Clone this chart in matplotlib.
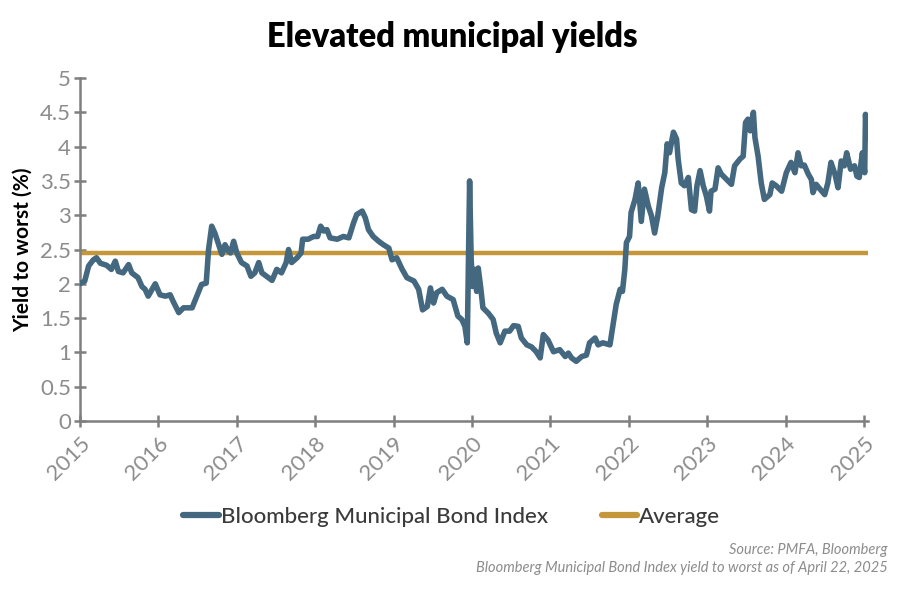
import numpy as np
import matplotlib.pyplot as plt

plt.rcParams['font.family'] = ['Lato', 'DejaVu Sans']

# yield to worst (decimal year, %)
years = [2015.01, 2015.06, 2015.11, 2015.17, 2015.21, 2015.26, 2015.34, 2015.40, 2015.45, 2015.49,
         2015.55, 2015.62, 2015.66, 2015.74, 2015.79, 2015.83, 2015.87, 2015.96, 2016.02, 2016.09,
         2016.15, 2016.19, 2016.26, 2016.32, 2016.43, 2016.49, 2016.55, 2016.61, 2016.64, 2016.68,
         2016.72, 2016.77, 2016.81, 2016.85, 2016.89, 2016.92, 2016.96, 2017.00, 2017.06, 2017.13,
         2017.18, 2017.23, 2017.28, 2017.32, 2017.38, 2017.45, 2017.51, 2017.57, 2017.63, 2017.66,
         2017.70, 2017.77, 2017.82, 2017.84, 2017.91, 2017.98, 2018.03, 2018.07, 2018.11, 2018.15,
         2018.19, 2018.28, 2018.36, 2018.43, 2018.49, 2018.53, 2018.60, 2018.64, 2018.68, 2018.74,
         2018.81, 2018.87, 2018.94, 2018.98, 2019.04, 2019.11, 2019.17, 2019.26, 2019.32, 2019.37,
         2019.43, 2019.47, 2019.51, 2019.55, 2019.62, 2019.68, 2019.76, 2019.82, 2019.87, 2019.91,
         2019.94, 2019.97, 2019.99, 2020.01, 2020.04, 2020.06, 2020.08, 2020.11, 2020.14, 2020.21,
         2020.27, 2020.31, 2020.36, 2020.42, 2020.48, 2020.53, 2020.59, 2020.63, 2020.70, 2020.76,
         2020.82, 2020.87, 2020.91, 2020.97, 2021.04, 2021.12, 2021.19, 2021.23, 2021.27, 2021.33,
         2021.40, 2021.46, 2021.50, 2021.57, 2021.61, 2021.67, 2021.76, 2021.80, 2021.84, 2021.89,
         2021.92, 2021.95, 2021.97, 2022.01, 2022.03, 2022.08, 2022.12, 2022.16, 2022.20, 2022.25,
         2022.29, 2022.33, 2022.37, 2022.42, 2022.46, 2022.49, 2022.52, 2022.57, 2022.61, 2022.63,
         2022.67, 2022.71, 2022.76, 2022.80, 2022.84, 2022.87, 2022.91, 2022.95, 2022.99, 2023.03,
         2023.05, 2023.10, 2023.14, 2023.18, 2023.25, 2023.31, 2023.35, 2023.42, 2023.46, 2023.49,
         2023.52, 2023.55, 2023.59, 2023.61, 2023.65, 2023.69, 2023.73, 2023.80, 2023.83, 2023.88,
         2023.95, 2024.01, 2024.07, 2024.12, 2024.16, 2024.20, 2024.24, 2024.29, 2024.33, 2024.35,
         2024.39, 2024.44, 2024.50, 2024.54, 2024.58, 2024.63, 2024.67, 2024.71, 2024.75, 2024.78,
         2024.83, 2024.88, 2024.91, 2024.94, 2024.98, 2025.01, 2025.02, 2025.04, 2025.05]
ytw = [2.01, 2.04, 2.26, 2.35, 2.38, 2.30, 2.27, 2.21, 2.33, 2.18,
       2.16, 2.28, 2.16, 2.09, 1.96, 1.92, 1.82, 2.00, 1.84, 1.82,
       1.84, 1.74, 1.58, 1.65, 1.65, 1.82, 1.99, 2.01, 2.50, 2.84,
       2.74, 2.57, 2.43, 2.57, 2.48, 2.45, 2.62, 2.45, 2.31, 2.26,
       2.11, 2.16, 2.31, 2.16, 2.11, 2.05, 2.21, 2.16, 2.31, 2.50,
       2.31, 2.38, 2.45, 2.65, 2.65, 2.69, 2.69, 2.84, 2.77, 2.79,
       2.67, 2.65, 2.69, 2.67, 2.89, 3.01, 3.06, 2.96, 2.79, 2.69,
       2.62, 2.57, 2.52, 2.35, 2.38, 2.21, 2.09, 2.04, 1.92, 1.62,
       1.67, 1.94, 1.72, 1.87, 1.92, 1.82, 1.77, 1.53, 1.48, 1.38,
       1.14, 3.50, 2.35, 1.96, 2.21, 1.89, 2.23, 1.96, 1.65, 1.57,
       1.48, 1.28, 1.14, 1.31, 1.31, 1.39, 1.38, 1.21, 1.11, 1.08,
       1.01, 0.92, 1.26, 1.18, 1.01, 1.04, 0.94, 0.99, 0.92, 0.87,
       0.94, 0.96, 1.14, 1.21, 1.11, 1.14, 1.11, 1.40, 1.70, 1.92,
       1.89, 2.21, 2.60, 2.69, 3.04, 3.23, 3.47, 2.91, 3.38, 3.13,
       2.99, 2.74, 2.99, 3.40, 3.62, 4.04, 3.91, 4.21, 4.11, 3.82,
       3.47, 3.43, 3.55, 3.08, 3.06, 3.43, 3.65, 3.43, 3.28, 3.06,
       3.35, 3.38, 3.69, 3.60, 3.52, 3.45, 3.72, 3.82, 3.86, 4.35,
       4.40, 4.23, 4.50, 4.13, 3.86, 3.47, 3.23, 3.30, 3.47, 3.43,
       3.35, 3.62, 3.77, 3.62, 3.91, 3.72, 3.73, 3.60, 3.52, 3.33,
       3.45, 3.38, 3.30, 3.47, 3.77, 3.60, 3.40, 3.79, 3.72, 3.91,
       3.67, 3.72, 3.57, 3.55, 3.91, 3.62, 4.47, 4.13, 4.28]
average = 2.45
year_ticks = list(range(2015, 2026))

blue = '#44687f'
gold = '#c4983a'
grey = '#7f7f7f'

fig = plt.figure(figsize=(9.04, 6), dpi=100)
ax = fig.add_axes([0.0885, 0.2983, 0.8715, 0.5717])

ax.plot(years, ytw, color=blue, lw=4.0, solid_joinstyle='round',
        label='Bloomberg Municipal Bond Index', zorder=3)
ax.plot([years[0], years[-1]], [average, average], color=gold, lw=3.2,
        label='Average', zorder=2)

ax.set_xlim(2015, 2025.05)
ax.set_ylim(0, 5)
ax.set_yticks(np.arange(0, 5.01, 0.5))
ax.set_yticklabels(['0', '0.5', '1', '1.5', '2', '2.5', '3', '3.5', '4', '4.5', '5'])
ax.set_xticks(year_ticks)
ax.set_xticklabels([str(y) for y in year_ticks], rotation=45, ha='right',
                   rotation_mode='anchor')

for s in ['top', 'right']:
    ax.spines[s].set_visible(False)
for s in ['left', 'bottom']:
    ax.spines[s].set_color(grey)
    ax.spines[s].set_linewidth(1.8)
ax.tick_params(direction='inout', length=9, width=1.8, color=grey,
               labelcolor='#8c8c8c', labelsize=16)
ax.tick_params(axis='y', pad=2)
ax.tick_params(axis='x', pad=4)

ax.set_ylabel('Yield to worst (%)', fontsize=15, fontweight='bold', color='black',
              labelpad=5)

fig.text(0.5, 0.938, 'Elevated municipal yields', ha='center', va='center',
         fontsize=23.5, fontweight='heavy', color='black')

leg = fig.legend(loc='center', bbox_to_anchor=(0.5, 0.138), ncol=2, frameon=False,
                 prop={'size': 16, 'weight': 'medium'}, handlelength=1.6,
                 handletextpad=0.1, columnspacing=2.4)
for t in leg.get_texts():
    t.set_color('#3a3a3a')
for h in leg.legend_handles:
    h.set_linewidth(4.5)
    h.set_solid_capstyle('round')

fig.text(0.982, 0.083, 'Source: PMFA, Bloomberg', ha='right', va='center',
         fontsize=10.5, style='italic', color='#8c8c8c')
fig.text(0.982, 0.053, 'Bloomberg Municipal Bond Index yield to worst as of April 22, 2025',
         ha='right', va='center', fontsize=10.5, style='italic', color='#8c8c8c')

fig.savefig('out.png', dpi=100)
